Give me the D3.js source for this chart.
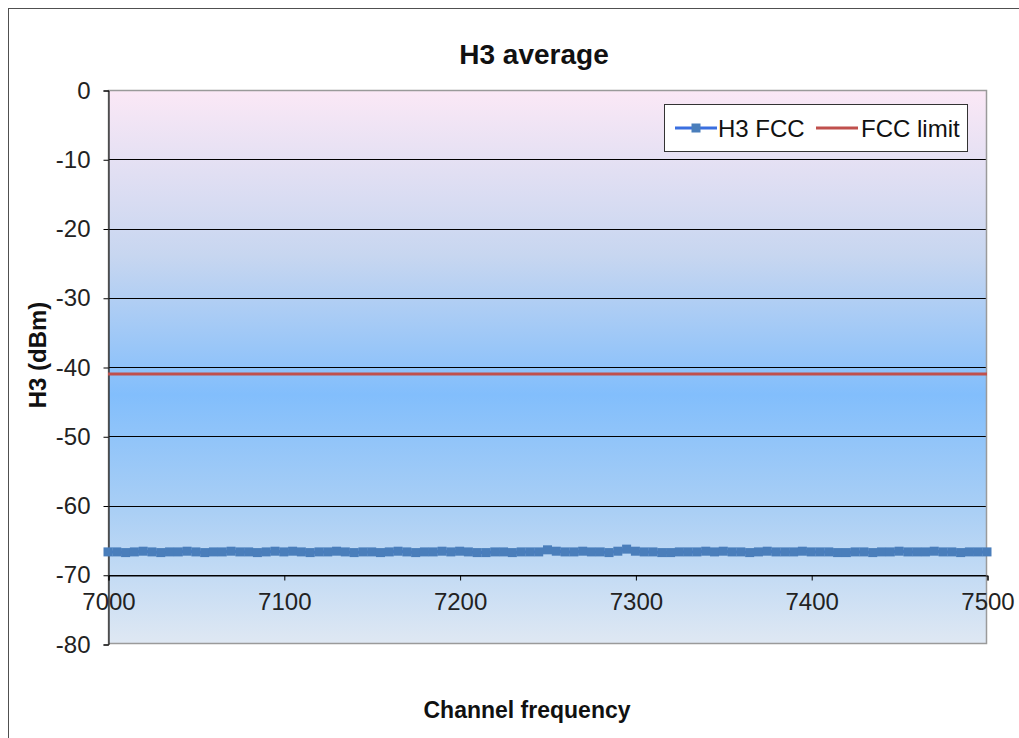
<!DOCTYPE html>
<html><head><meta charset="utf-8">
<script src="https://cdn.jsdelivr.net/npm/d3@7"></script>
<style>body{margin:0;background:#fff;}svg{display:block;font-family:"Liberation Sans",Arial,sans-serif;}</style>
</head><body><svg id="c" width="1019" height="738"></svg>
<script>
const title = "H3 average";
const xTitle = "Channel frequency";
const yTitle = "H3 (dBm)";
const seriesNames = ["H3 FCC", "FCC limit"];
const xTicks = [7000, 7100, 7200, 7300, 7400, 7500];
const yTicks = [0, -10, -20, -30, -40, -50, -60, -70, -80];
const freqStart = 7000, freqStep = 5;
const h3Values = [
 -66.7,-66.7,-66.8,-66.7,-66.6,-66.7,-66.8,-66.7,-66.7,-66.6,
 -66.7,-66.8,-66.7,-66.7,-66.6,-66.7,-66.7,-66.8,-66.7,-66.6,
 -66.7,-66.6,-66.7,-66.8,-66.7,-66.7,-66.6,-66.7,-66.8,-66.7,
 -66.7,-66.8,-66.7,-66.6,-66.7,-66.8,-66.7,-66.7,-66.6,-66.7,
 -66.6,-66.7,-66.8,-66.8,-66.7,-66.7,-66.8,-66.7,-66.7,-66.7,
 -66.4,-66.6,-66.7,-66.7,-66.6,-66.7,-66.7,-66.8,-66.6,-66.3,
 -66.6,-66.7,-66.7,-66.8,-66.8,-66.7,-66.7,-66.7,-66.6,-66.7,
 -66.6,-66.7,-66.7,-66.8,-66.7,-66.6,-66.7,-66.7,-66.7,-66.6,
 -66.7,-66.7,-66.7,-66.8,-66.8,-66.7,-66.7,-66.8,-66.7,-66.7,
 -66.6,-66.7,-66.7,-66.7,-66.6,-66.7,-66.7,-66.8,-66.7,-66.7,
 -66.7
];
const limitValue = -41;

const data = h3Values.map((v,i)=>({f: freqStart + i*freqStep, v}));
const fmt = d => String(d).replace("\u2212","-");

const svg = d3.select("#c");
const L = 108, R = 987, T = 90, B = 644;
const x = d3.scaleLinear().domain([7000, 7500]).range([L, R]);
const y = d3.scaleLinear().domain([-80, 0]).range([B, T]);
const FONT = "'Liberation Sans',Arial,sans-serif";

// outer frame
svg.append("rect").attr("x",8.5).attr("y",8.5).attr("width",1100).attr("height",800)
  .attr("fill","#fff").attr("stroke","#505050").attr("stroke-width",1);

// gradient
const defs = svg.append("defs");
const g = defs.append("linearGradient").attr("id","bg").attr("x1",0).attr("y1",0).attr("x2",0).attr("y2",1);
[[0,"#fbe8f6"],[0.3,"#c7d6f0"],[0.55,"#82befc"],[0.75,"#a8cef5"],[1,"#dfe8f3"]].forEach(([o,c])=>
  g.append("stop").attr("offset",o).attr("stop-color",c));
svg.append("rect").attr("x",L).attr("y",T).attr("width",R-L).attr("height",B-T).attr("fill","url(#bg)");

// gridlines
svg.append("g").selectAll("line").data(yTicks.filter(d=>d!==0 && d!==-80)).join("line")
  .attr("x1",L).attr("x2",R).attr("y1",d=>Math.round(y(d))+0.5).attr("y2",d=>Math.round(y(d))+0.5)
  .attr("stroke","#000").attr("stroke-width",1);

// plot border (gray)
svg.append("rect").attr("x",L+0.5).attr("y",T+0.5).attr("width",R-L-1).attr("height",B-T-1)
  .attr("fill","none").attr("stroke","#9a9a9a").attr("stroke-width",1.5);

// y axis
const yAxis = d3.axisLeft(y).tickValues(yTicks).tickSize(5).tickPadding(13).tickFormat(d=>fmt(d));
const ya = svg.append("g").attr("transform",`translate(${L+0.5},0.5)`).call(yAxis);
ya.select(".domain").attr("stroke","#000");
ya.selectAll(".tick line").attr("stroke","#000");
ya.selectAll("text").attr("font-size",24).attr("fill","#222").attr("font-family",FONT);

// x axis at -70
const xAxis = d3.axisBottom(x).tickValues(xTicks).tickSize(5).tickPadding(12).tickFormat(d=>fmt(d));
const xa = svg.append("g").attr("transform",`translate(0.5,${Math.round(y(-70))+0.5})`).call(xAxis);
xa.select(".domain").attr("stroke","#000");
xa.selectAll(".tick line").attr("stroke","#000");
xa.selectAll("text").attr("font-size",24).attr("fill","#222").attr("font-family",FONT);

// limit line
svg.append("line").attr("x1",L).attr("x2",R).attr("y1",y(limitValue)).attr("y2",y(limitValue))
  .attr("stroke","#c0504d").attr("stroke-width",3);

// H3 series
svg.append("path").datum(data).attr("fill","none").attr("stroke","#3a6fe0").attr("stroke-width",3)
  .attr("d", d3.line().x(d=>x(d.f)).y(d=>y(d.v)));
svg.append("g").selectAll("rect").data(data).join("rect")
  .attr("x",d=>x(d.f)-4.5).attr("y",d=>y(d.v)-4.5).attr("width",9).attr("height",9)
  .attr("fill","#4a7ebb");

// titles
svg.append("text").attr("x",534).attr("y",64).attr("text-anchor","middle")
  .attr("font-size",28).attr("font-weight","bold").attr("fill","#111").text(title);
svg.append("text").attr("x",527).attr("y",718).attr("text-anchor","middle")
  .attr("font-size",23).attr("font-weight","bold").attr("fill","#111").text(xTitle);
svg.append("text").attr("transform","translate(46,355) rotate(-90)").attr("text-anchor","middle")
  .attr("font-size",24).attr("font-weight","bold").attr("fill","#111").text(yTitle);

// legend
const lg = svg.append("g");
lg.append("rect").attr("x",664.5).attr("y",104.5).attr("width",303).attr("height",47)
  .attr("fill","#fff").attr("stroke","#333").attr("stroke-width",1);
lg.append("line").attr("x1",675).attr("x2",717).attr("y1",128).attr("y2",128).attr("stroke","#3a6fe0").attr("stroke-width",3);
lg.append("rect").attr("x",691.5).attr("y",123.5).attr("width",9).attr("height",9).attr("fill","#4a7ebb");
lg.append("text").attr("x",718).attr("y",137).attr("font-size",24).attr("fill","#111").text(seriesNames[0]);
lg.append("line").attr("x1",816).attr("x2",858).attr("y1",128).attr("y2",128).attr("stroke","#c0504d").attr("stroke-width",3);
lg.append("text").attr("x",861).attr("y",137).attr("font-size",24).attr("fill","#111").text(seriesNames[1]);
</script></body></html>
